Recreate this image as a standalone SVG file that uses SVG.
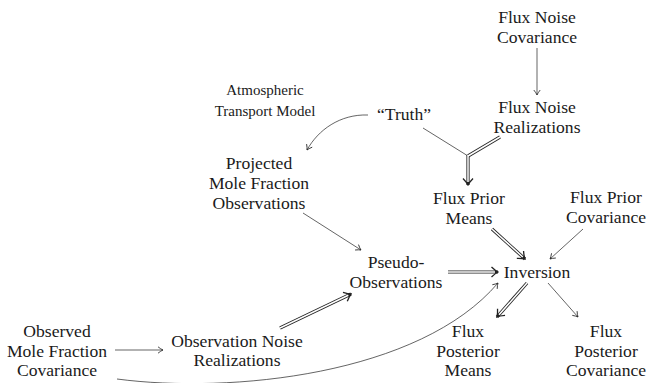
<svg xmlns="http://www.w3.org/2000/svg" width="646" height="383" viewBox="0 0 646 383">
<style>
text{font-family:"Liberation Serif","Times New Roman",serif;font-size:17.6px;fill:#1a1a1a;text-anchor:middle}
.sm{font-size:15px}
.e{fill:none;stroke:#222;stroke-width:0.7}
.dbk{fill:none;stroke:#222;stroke-width:3.2}
.dwh{fill:none;stroke:#fff;stroke-width:1.5}
</style>
<defs>
<marker id="a" viewBox="-7 -5 8 10" refX="0" refY="0" markerWidth="8" markerHeight="10" orient="auto" markerUnits="userSpaceOnUse">
<path d="M-5,-3.2 Q-2,-0.8 0,0 Q-2,0.8 -5,3.2" fill="none" stroke="#222" stroke-width="0.8"/>
</marker>
<marker id="d" viewBox="-9 -7 10 14" refX="0" refY="0" markerWidth="10" markerHeight="14" orient="auto" markerUnits="userSpaceOnUse">
<path d="M-6.5,-5 Q-2.5,-1.2 0,0 Q-2.5,1.2 -6.5,5" fill="none" stroke="#222" stroke-width="1.3"/>
</marker>
</defs>
<g id="connectors">
<line class="e" x1="537" y1="48" x2="537" y2="95" marker-end="url(#a)"/>
<path class="e" d="M368,115 C340,114 318,130 307,150" marker-end="url(#a)"/>
<line class="e" x1="423" y1="128" x2="468" y2="156"/>
<line class="dbk" x1="500" y1="137" x2="468" y2="156"/>
<line class="dbk" x1="468" y1="155" x2="468" y2="185" marker-end="url(#d)"/>
<line class="dwh" x1="500" y1="137" x2="468" y2="156"/>
<line class="dwh" x1="468" y1="155" x2="468" y2="182"/>
<line class="e" x1="303" y1="213" x2="361" y2="250" marker-end="url(#a)"/>
<line class="dbk" x1="492" y1="229" x2="525" y2="259" marker-end="url(#d)"/>
<line class="dwh" x1="492" y1="229" x2="522.8" y2="257"/>
<line class="e" x1="583" y1="229" x2="550" y2="259" marker-end="url(#a)"/>
<line class="dbk" x1="448" y1="272" x2="498" y2="272" marker-end="url(#d)"/>
<line class="dwh" x1="448" y1="272" x2="495" y2="272"/>
<line class="dbk" x1="527" y1="283" x2="497" y2="317" marker-end="url(#d)"/>
<line class="dwh" x1="527" y1="283" x2="499" y2="314.7"/>
<line class="e" x1="548" y1="283" x2="578" y2="317" marker-end="url(#a)"/>
<line class="dbk" x1="280" y1="328" x2="351" y2="294" marker-end="url(#d)"/>
<line class="dwh" x1="280" y1="328" x2="348.3" y2="295.3"/>
<line class="e" x1="115" y1="350" x2="163" y2="350" marker-end="url(#a)"/>
<path class="e" d="M117,379 C230,394 420,375 498,283" marker-end="url(#a)"/>
</g>
<g id="flux-noise-covariance"><text x="537" y="23">Flux Noise</text><text x="537" y="43">Covariance</text></g>
<g id="flux-noise-realizations"><text x="537" y="113">Flux Noise</text><text x="537" y="133">Realizations</text></g>
<g id="atmospheric-transport-model"><text class="sm" x="265" y="95">Atmospheric</text><text class="sm" x="265" y="116">Transport Model</text></g>
<g id="truth"><text x="404" y="120">“Truth”</text></g>
<g id="projected"><text x="259" y="169">Projected</text><text x="259" y="189">Mole Fraction</text><text x="259" y="209">Observations</text></g>
<g id="flux-prior-means"><text x="469" y="204">Flux Prior</text><text x="469" y="224">Means</text></g>
<g id="flux-prior-covariance"><text x="606" y="203">Flux Prior</text><text x="606" y="223">Covariance</text></g>
<g id="pseudo-observations"><text x="396" y="268">Pseudo-</text><text x="396" y="288">Observations</text></g>
<g id="inversion"><text x="537" y="278">Inversion</text></g>
<g id="flux-posterior-means"><text x="468" y="337">Flux</text><text x="468" y="357">Posterior</text><text x="468" y="376">Means</text></g>
<g id="flux-posterior-covariance"><text x="606" y="337">Flux</text><text x="606" y="357">Posterior</text><text x="606" y="376">Covariance</text></g>
<g id="observed-mole-fraction-covariance"><text x="57" y="337">Observed</text><text x="57" y="357">Mole Fraction</text><text x="57" y="376">Covariance</text></g>
<g id="observation-noise-realizations"><text x="237" y="347">Observation Noise</text><text x="237" y="366">Realizations</text></g>
</svg>
